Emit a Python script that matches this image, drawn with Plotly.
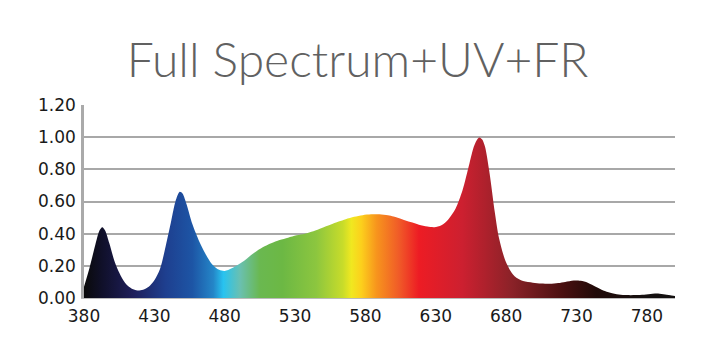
import plotly.graph_objects as go

# Wavelength (nm) and relative intensity
wavelength = [380, 384, 388, 391, 393, 395, 398, 402, 406, 410, 414, 418, 422, 426, 430,
              434, 438, 442, 445, 448, 450, 453, 457, 462, 466, 471, 476, 480, 485, 490,
              495, 500, 507, 513, 519, 525, 531, 537, 543, 549, 555, 561, 566, 572, 578,
              584, 590, 596, 600, 606, 612, 618, 624, 629, 634, 639, 644, 649, 654, 657,
              659, 661, 663, 665, 668, 672, 675, 680, 686, 692, 699, 705, 711, 717, 722,
              728, 733, 738, 744, 749, 754, 760, 766, 772, 778, 784, 788, 793, 800]
intensity = [0.07, 0.19, 0.33, 0.42, 0.44, 0.42, 0.34, 0.22, 0.14, 0.085, 0.058, 0.047, 0.052, 0.07, 0.11,
             0.18, 0.32, 0.48, 0.60, 0.66, 0.65, 0.58, 0.46, 0.35, 0.28, 0.21, 0.175, 0.168, 0.185, 0.21,
             0.24, 0.275, 0.315, 0.34, 0.36, 0.375, 0.39, 0.40, 0.415, 0.435, 0.455, 0.475, 0.49, 0.505, 0.515,
             0.52, 0.52, 0.514, 0.506, 0.49, 0.472, 0.456, 0.444, 0.44, 0.452, 0.49, 0.555, 0.67, 0.84, 0.94,
             0.98, 0.998, 0.985, 0.94, 0.79, 0.53, 0.37, 0.22, 0.135, 0.105, 0.095, 0.09, 0.088, 0.093, 0.10,
             0.109, 0.107, 0.095, 0.068, 0.047, 0.033, 0.022, 0.018, 0.018, 0.02, 0.026, 0.028, 0.022, 0.012]

# Spectrum colour stops (nm, colour)
color_nm = [380, 393, 415, 438, 457, 472, 479, 491, 505, 521, 545, 564, 570, 577, 588, 604, 618, 649, 684, 720, 744, 780, 800]
color_hex = ["#0a0a0a", "#10102a", "#1e1e5a", "#1e3f8f", "#1d55a5", "#2486c8", "#28c3f0", "#6ac0b0",
             "#6ab850", "#6cb844", "#8cc63f", "#c8dc2a", "#f0e820", "#fcd01c", "#f7941d", "#f05a28",
             "#ed1c24", "#cc2030", "#8b2228", "#4a1010", "#200a08", "#141010", "#141010"]

x_ticks = [380, 430, 480, 530, 580, 630, 680, 730, 780]
y_ticks = [0.0, 0.2, 0.4, 0.6, 0.8, 1.0, 1.2]
title_text = "Full Spectrum+UV+FR"

lo, hi = 380, 800
colorscale = [[(n - lo) / (hi - lo), c] for n, c in zip(color_nm, color_hex)]

fig = go.Figure()
fig.add_trace(go.Scatter(
    x=wavelength, y=intensity, mode="lines",
    line=dict(width=0, shape="spline", smoothing=0.8, color="rgba(0,0,0,0)"),
    fill="tozeroy",
    fillgradient=dict(type="horizontal", colorscale=colorscale, start=lo, stop=hi),
    hoverinfo="skip", showlegend=False,
))

fig.update_layout(
    width=721, height=364,
    margin=dict(l=84, r=46, t=105, b=66),
    paper_bgcolor="white", plot_bgcolor="white",
    title=dict(text=title_text, x=0.496, xanchor="center", xref="container",
               y=0.835, yanchor="middle",
               font=dict(family="Lato, Open Sans, sans-serif", size=48, color="#616161", weight=300)),
    xaxis=dict(range=[lo, hi], tickvals=x_ticks, ticktext=[str(v) for v in x_ticks],
               showgrid=False, zeroline=False, showline=True, linecolor="#bbbbbb", linewidth=1,
               ticks="", tickfont=dict(family="DejaVu Sans", size=17, color="#1a1a1a"),
               ticklabelstandoff=3),
    yaxis=dict(range=[0, 1.2], tickvals=y_ticks, tickformat=".2f",
               showgrid=True, gridcolor="#a8a8a8", gridwidth=1.5, zeroline=False,
               showline=True, linecolor="#aaaaaa", linewidth=2.5,
               ticks="", tickfont=dict(family="DejaVu Sans", size=17, color="#1a1a1a"),
               ticklabelstandoff=2),
)

fig.write_html("out.html")
